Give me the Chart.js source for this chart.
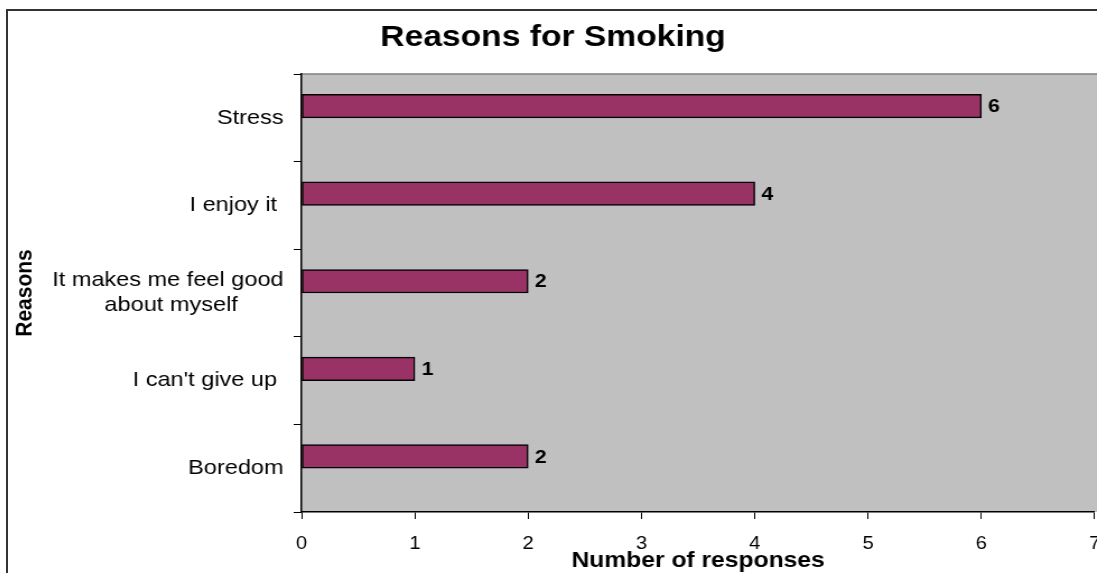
<!DOCTYPE html>
<html>
<head>
<meta charset="utf-8">
<script src="https://cdn.jsdelivr.net/npm/chart.js@4/dist/chart.umd.min.js"></script>
<style>
  html, body { margin: 0; padding: 0; background: #fff; overflow: hidden; }
  #wrap { position: relative; width: 1097px; height: 573px; overflow: hidden; }
  /* only the top and left of the outer frame are inside the picture */
  #frame { position: absolute; left: 6px; top: 9px; right: 0; bottom: 0; border-top: 2px solid #333; border-left: 2px solid #333; }
  #chart { position: absolute; left: 8px; top: 11px; }
</style>
</head>
<body>
<div id="wrap">
  <div id="frame"></div>
  <!-- the original picture is stretched sideways, so the canvas is drawn narrow and widened by css -->
  <canvas id="chart" width="989" height="570" style="width:1108px;height:570px"></canvas>
</div>
<script>
// Reasons for Smoking - horizontal bar chart
const reasons = ['Stress', 'I enjoy it ', ['It makes me feel good', 'about myself       '], "I can't give up ", 'Boredom'];
const responses = [6, 4, 2, 1, 2];
const emptySeries = [null, null, null, null, null]; // excel's unused second series slot
const xTicks = [0, 1, 2, 3, 4, 5, 6, 7];

const FONT = 'Arial, "Liberation Sans", sans-serif';

// grey plot area like excel
const plotArea = {
  id: 'plotArea',
  beforeDraw(chart) {
    const a = chart.chartArea;
    const ctx = chart.ctx;
    ctx.save();
    ctx.fillStyle = '#C0C0C0';
    ctx.fillRect(a.left, a.top, a.right - a.left + 20, a.bottom - a.top);
    ctx.strokeStyle = '#808080';
    ctx.lineWidth = 1.5;
    ctx.beginPath();
    ctx.moveTo(a.left, a.top);
    ctx.lineTo(a.right + 20, a.top);
    ctx.stroke();
    ctx.restore();
  }
};

// value labels at the end of each bar
const barValues = {
  id: 'barValues',
  afterDatasetsDraw(chart) {
    const ctx = chart.ctx;
    const meta = chart.getDatasetMeta(0);
    ctx.save();
    ctx.font = 'bold 19px ' + FONT;
    ctx.fillStyle = '#000';
    ctx.textAlign = 'left';
    ctx.textBaseline = 'middle';
    meta.data.forEach(function(bar, i) {
      ctx.fillText(String(responses[i]), bar.x + 6, bar.y + 1);
    });
    ctx.restore();
  }
};

new Chart(document.getElementById('chart'), {
  type: 'bar',
  data: {
    labels: reasons,
    datasets: [{
      label: 'Responses',
      data: responses,
      backgroundColor: '#993366',
      borderColor: '#000',
      borderWidth: 1.5,
      borderSkipped: false,
      barThickness: 23.5
    }, {
      label: 'Series 2',
      data: emptySeries,
      backgroundColor: '#993366',
      barThickness: 23.5
    }]
  },
  options: {
    indexAxis: 'y',
    responsive: false,
    devicePixelRatio: 1,
    animation: false,
    layout: { padding: { left: 0, right: 16, top: 0, bottom: 0 } },
    plugins: {
      legend: { display: false },
      tooltip: { enabled: false },
      title: {
        display: true,
        text: 'Reasons for Smoking',
        color: '#000',
        font: { family: FONT, size: 30, weight: 'bold' },
        padding: { top: 9, bottom: 18 }
      }
    },
    scales: {
      x: {
        min: 0,
        max: 7,
        afterBuildTicks: function(scale) { scale.ticks = xTicks.map(v => ({ value: v })); },
        afterFit: function(scale) { scale.height = 69; },
        grid: { drawOnChartArea: false, drawTicks: true, tickLength: 7, tickColor: '#000' },
        border: { display: true, color: '#000', width: 1.5 },
        ticks: { color: '#000', font: { family: FONT, size: 18 }, padding: 14 },
        title: {
          display: true,
          text: 'Number of responses',
          color: '#000',
          font: { family: FONT, size: 22, weight: 'bold' },
          padding: { top: 0, bottom: 7 }
        }
      },
      y: {
        afterFit: function(scale) { scale.width = 262; },
        grid: { drawOnChartArea: false, drawTicks: true, tickLength: 7, tickColor: '#000', offset: true },
        border: { display: true, color: '#000', width: 1.5 },
        ticks: { color: '#000', font: { family: FONT, size: 21 }, padding: 9 },
        title: {
          display: true,
          text: 'Reasons',
          color: '#000',
          font: { family: FONT, size: 21, weight: 'bold' },
          padding: { top: 3, bottom: 10 }
        }
      }
    }
  },
  plugins: [plotArea, barValues]
});
</script>
</body>
</html>
